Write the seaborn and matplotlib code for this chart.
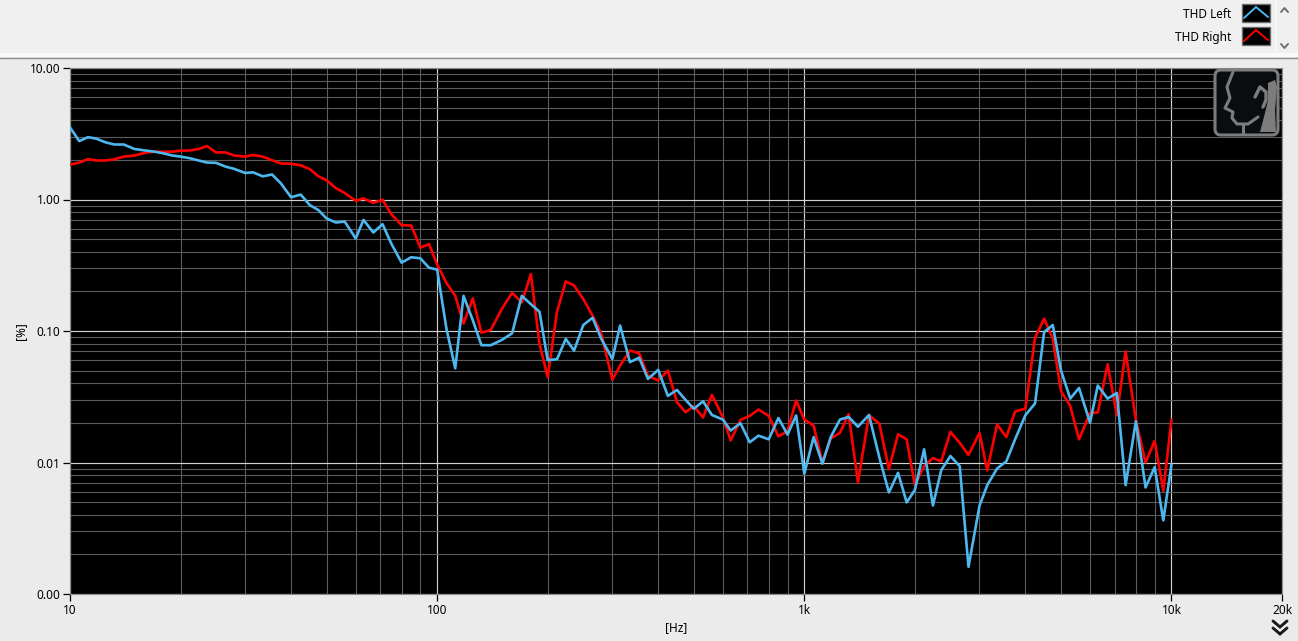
import pandas as pd
import matplotlib.pyplot as plt
import seaborn as sns
from matplotlib.patches import FancyBboxPatch, Polygon, Rectangle
from matplotlib.ticker import FixedLocator, FixedFormatter, LogLocator, NullFormatter

# measurement points (Hz)
freq = [10, 10.6, 11.2, 11.8, 12.5, 13.2, 14, 15, 16, 17, 18, 19, 20, 21.2, 22.4, 23.6, 25, 26.5, 28, 30,
        31.5, 33.5, 35.5, 37.5, 40, 42.5, 45, 47.5, 50, 53, 56, 60, 63, 67, 71, 75, 80, 85, 90, 95,
        100, 106, 112, 118, 125, 132, 140, 150, 160, 170, 180, 190, 200, 212, 224, 236, 250, 265, 280, 300,
        315, 335, 355, 375, 400, 425, 450, 475, 500, 530, 560, 600, 630, 670, 710, 750, 800, 850, 900, 950,
        1000, 1060, 1120, 1180, 1250, 1320, 1400, 1500, 1600, 1700, 1800, 1900, 2000, 2120, 2240, 2360, 2500, 2650, 2800, 3000,
        3150, 3350, 3550, 3750, 4000, 4250, 4500, 4750, 5000, 5300, 5600, 6000, 6300, 6700, 7100, 7500, 8000, 8500, 9000, 9500,
        10000]

# THD in %
thd_left = [3.53, 2.78, 2.98, 2.90, 2.72, 2.62, 2.62, 2.42, 2.36, 2.31, 2.24, 2.16, 2.12, 2.06, 1.98, 1.91, 1.90, 1.78, 1.71, 1.59,
            1.61, 1.50, 1.55, 1.33, 1.04, 1.09, 0.906, 0.83, 0.717, 0.668, 0.68, 0.505, 0.70, 0.561, 0.649, 0.462, 0.331, 0.364, 0.357, 0.303,
            0.293, 0.104, 0.052, 0.185, 0.121, 0.078, 0.078, 0.0855, 0.096, 0.185, 0.160, 0.140, 0.060, 0.061, 0.087, 0.071, 0.111, 0.126, 0.087, 0.0613,
            0.110, 0.058, 0.0627, 0.0432, 0.0506, 0.0321, 0.0356, 0.0299, 0.0256, 0.0292, 0.0230, 0.0212, 0.0175, 0.0199, 0.01426, 0.0160, 0.0150, 0.0218, 0.0163, 0.0228,
            0.0082, 0.0156, 0.0098, 0.0156, 0.0212, 0.0222, 0.0187, 0.0230, 0.0110, 0.00592, 0.00835, 0.00497, 0.00617, 0.0126, 0.00471, 0.00875, 0.0112, 0.00938, 0.00161, 0.00469,
            0.00673, 0.0090, 0.0102, 0.0150, 0.0229, 0.0281, 0.0982, 0.111, 0.0502, 0.0306, 0.0369, 0.0201, 0.0385, 0.0306, 0.0338, 0.00673, 0.0206, 0.00646, 0.00923, 0.00363,
            0.00966]

thd_right = [1.84, 1.91, 2.03, 1.98, 1.98, 2.02, 2.12, 2.16, 2.27, 2.31, 2.31, 2.31, 2.35, 2.36, 2.42, 2.55, 2.28, 2.28, 2.16, 2.12,
             2.18, 2.12, 1.99, 1.88, 1.87, 1.82, 1.70, 1.50, 1.40, 1.22, 1.12, 0.977, 1.02, 0.944, 0.995, 0.773, 0.638, 0.634, 0.429, 0.459,
             0.32, 0.232, 0.185, 0.114, 0.177, 0.097, 0.102, 0.147, 0.195, 0.165, 0.271, 0.080, 0.0445, 0.140, 0.238, 0.222, 0.175, 0.131, 0.095, 0.0425,
             0.0546, 0.0710, 0.0676, 0.0458, 0.0420, 0.050, 0.0287, 0.0241, 0.0268, 0.0220, 0.0327, 0.0221, 0.0147, 0.0211, 0.0226, 0.0253, 0.0226, 0.0158, 0.0173, 0.0296,
             0.0212, 0.0191, 0.0100, 0.0152, 0.0168, 0.0233, 0.00705, 0.0229, 0.0198, 0.0089, 0.0164, 0.0150, 0.00673, 0.0094, 0.0108, 0.0102, 0.0171, 0.0141, 0.0114, 0.0168,
             0.0087, 0.0195, 0.0156, 0.0244, 0.0257, 0.0889, 0.124, 0.0875, 0.035, 0.0269, 0.015, 0.0238, 0.024, 0.0558, 0.0229, 0.0701, 0.021, 0.010, 0.0146, 0.0061,
             0.0212]

x_ticks = [10, 100, 1000, 10000, 20000]
x_labels = ['10', '100', '1k', '10k', '20k']
y_ticks = [0.001, 0.01, 0.1, 1, 10]
y_labels = ['0.00', '0.01', '0.10', '1.00', '10.00']

BLUE = '#4db8f0'
RED = '#ff0000'
PANEL = '#ebebeb'

sns.set_theme(style='dark', rc={'axes.facecolor': 'black', 'figure.facecolor': PANEL})
plt.rcParams['font.family'] = ['Noto Sans', 'DejaVu Sans']

df = pd.DataFrame({'freq': freq + freq,
                   'thd': thd_right + thd_left,
                   'channel': ['THD Right'] * len(freq) + ['THD Left'] * len(freq)})

W, H = 1298, 641
fig = plt.figure(figsize=(W / 100, H / 100), dpi=100)
ax = fig.add_axes([70 / W, 1 - 594 / H, (1282 - 70) / W, (594 - 68) / H])

# right channel is under the left one
sns.lineplot(data=df, x='freq', y='thd', hue='channel', hue_order=['THD Right', 'THD Left'],
             palette={'THD Right': RED, 'THD Left': BLUE}, estimator=None, sort=False,
             linewidth=1.9, legend=False, ax=ax, zorder=5)

ax.set_xscale('log')
ax.set_yscale('log')
ax.set_xlim(10, 20000)
ax.set_ylim(0.001, 10)

ax.xaxis.set_major_locator(FixedLocator(x_ticks))
ax.xaxis.set_major_formatter(FixedFormatter(x_labels))
ax.xaxis.set_minor_locator(LogLocator(base=10, subs=range(2, 10), numticks=12))
ax.xaxis.set_minor_formatter(NullFormatter())
ax.yaxis.set_major_locator(FixedLocator(y_ticks))
ax.yaxis.set_major_formatter(FixedFormatter(y_labels))
ax.yaxis.set_minor_locator(LogLocator(base=10, subs=range(2, 10), numticks=12))
ax.yaxis.set_minor_formatter(NullFormatter())

ax.grid(which='minor', color='#5c5c5c', linewidth=0.8, zorder=1)
ax.grid(which='major', color='#d0d0d0', linewidth=0.85, zorder=2)
ax.set_axisbelow(True)
ax.tick_params(which='major', length=5, width=0.9, color='black', labelsize=8.5, labelcolor='black', pad=2,
               left=True, bottom=True)
ax.tick_params(which='minor', length=0)
for s in ax.spines.values():
    s.set_color('#8a8a8a')
    s.set_linewidth(0.8)

ax.set_xlabel('[Hz]', fontsize=8.5, color='black', labelpad=3)
ax.set_ylabel('[%]', fontsize=8.5, color='black', labelpad=2)

# window furniture in pixel coords
ui = fig.add_axes([0, 0, 1, 1], zorder=10)
ui.set_xlim(0, W)
ui.set_ylim(H, 0)
ui.axis('off')
ui.patch.set_alpha(0)

ui.add_patch(Rectangle((0, 0), W, 53, color='#f0f0f0', lw=0))
ui.add_patch(Rectangle((0, 53), W, 4, color='#fafafa', lw=0))
ui.plot([0, W], [57.5, 57.5], color='#8c8c8c', lw=1)
ui.plot([1276, 1276], [0, 53], color='#fafafa', lw=1.2)

# legend
for label, col, y0 in [('THD Left', BLUE, 4), ('THD Right', RED, 27)]:
    ui.text(1231, y0 + 10, label, ha='right', va='center', fontsize=8.5, color='black')
    ui.add_patch(Rectangle((1242, y0), 28, 18, facecolor='black', edgecolor='#6e6e6e', lw=1))
    ui.plot([1244, 1256, 1268], [y0 + 14, y0 + 3, y0 + 13], color=col, lw=1.4, solid_joinstyle='miter')

# scroll arrows
ui.plot([1281, 1284.5, 1288], [12, 8, 12], color='#707070', lw=1.4)
ui.plot([1281, 1284.5, 1288], [44, 48, 44], color='#707070', lw=1.4)

# expand chevrons
for y0 in [621, 628]:
    ui.plot([1273, 1280, 1287], [y0, y0 + 6, y0], color='#1a1a1a', lw=2.1, solid_joinstyle='miter')

# head logo
GREY = '#7c7c7c'
ui.add_patch(FancyBboxPatch((1219, 74), 55, 57, boxstyle='round,pad=4,rounding_size=6',
                            facecolor='#0a0d10', edgecolor=GREY, lw=2.2))
ui.plot([1233, 1227, 1230, 1225, 1233, 1232, 1237, 1248, 1258],
        [72, 87, 98, 108, 112, 118, 124, 124, 117], color=GREY, lw=2.2)
ui.plot([1243, 1243], [124, 133], color=GREY, lw=2.2)
ui.plot([1255, 1260, 1266, 1266, 1263], [97, 87, 92, 100, 107], color=GREY, lw=2.4)
ui.add_patch(Polygon([(1268, 83), (1275, 80), (1277, 87), (1275, 110), (1276, 132),
                      (1260, 132), (1265, 113), (1268, 100)],
                     facecolor=GREY, edgecolor='none'))

fig.savefig('out.png', dpi=100, facecolor=fig.get_facecolor())
